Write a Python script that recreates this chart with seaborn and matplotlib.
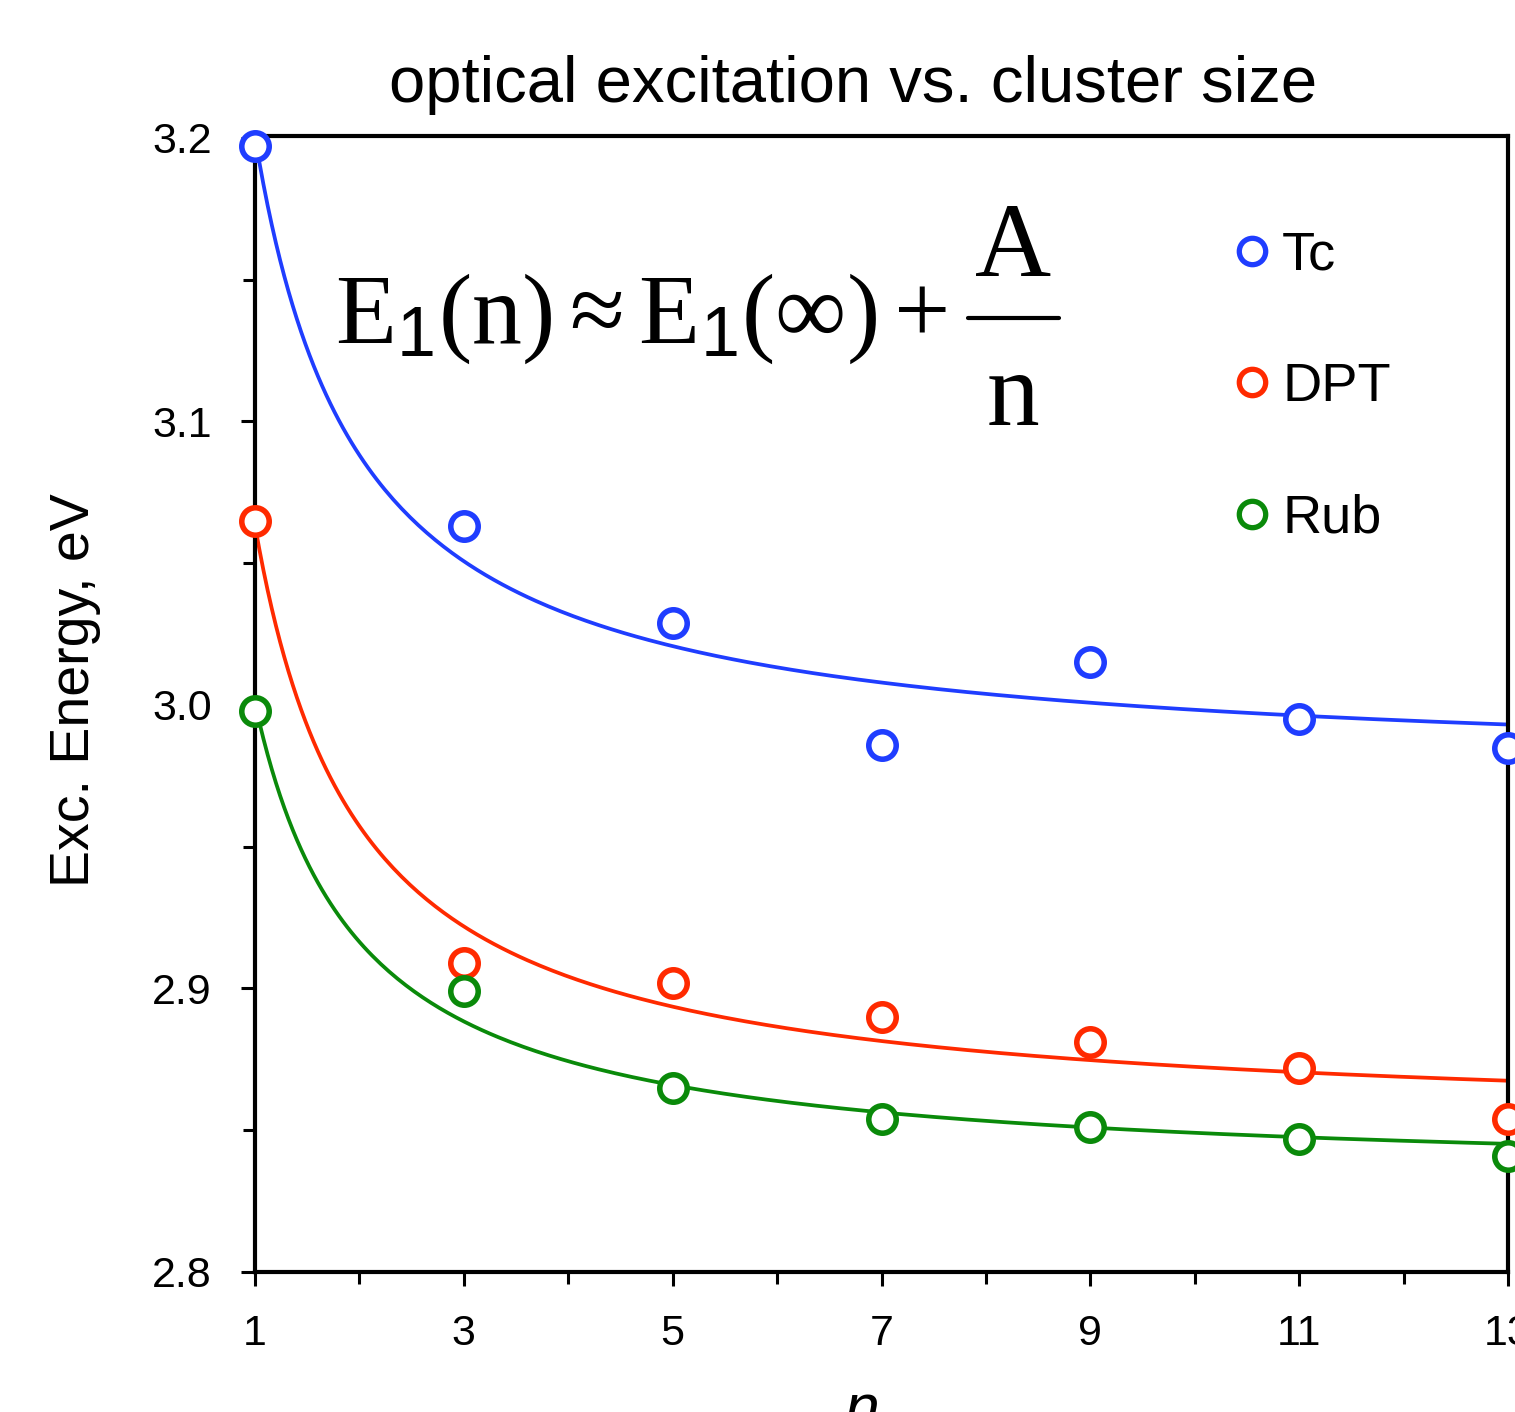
import numpy as np
import pandas as pd
import matplotlib
matplotlib.use("Agg")
import matplotlib.pyplot as plt
import seaborn as sns
from matplotlib.lines import Line2D
from matplotlib.ticker import MultipleLocator

# data
cluster_n = [1, 3, 5, 7, 9, 11, 13]
series_names = ["Tc", "DPT", "Rub"]
energy_tc = [3.197, 3.063, 3.029, 2.986, 3.015, 2.995, 2.985]
energy_dpt = [3.065, 2.909, 2.902, 2.890, 2.881, 2.872, 2.854]
energy_rub = [2.998, 2.899, 2.865, 2.854, 2.851, 2.847, 2.841]
series_colors = ["#1f3dff", "#ff2a00", "#0a8a0a"]
x_ticks = [1, 3, 5, 7, 9, 11, 13]
y_ticks = [2.8, 2.9, 3.0, 3.1, 3.2]

sns.set_style("ticks")
plt.rcParams["font.family"] = ["Liberation Sans Narrow", "Liberation Sans", "DejaVu Sans"]
for key in ["text.color", "axes.labelcolor", "axes.edgecolor", "xtick.color", "ytick.color"]:
    plt.rcParams[key] = "black"
plt.rcParams["mathtext.fontset"] = "custom"
plt.rcParams["mathtext.rm"] = "Liberation Serif"
plt.rcParams["mathtext.it"] = "Liberation Serif:italic"
plt.rcParams["mathtext.sf"] = "Liberation Sans"

df = pd.DataFrame({
    "n": cluster_n * 3,
    "series": np.repeat(series_names, len(cluster_n)),
    "energy": energy_tc + energy_dpt + energy_rub,
})

# least squares fit E(n) = E_inf + A/n for every series
n_fine = np.linspace(1, 13, 300)
curves = []
for name in series_names:
    sub = df[df["series"] == name]
    A, e_inf = np.polyfit(1.0 / sub["n"], sub["energy"], 1)
    curves.append(pd.DataFrame({"n": n_fine, "series": name, "energy": e_inf + A / n_fine}))
curve_df = pd.concat(curves, ignore_index=True)

fig = plt.figure(figsize=(15.15, 14.12), dpi=100)
ax = fig.add_axes([255 / 1515, 1 - 1272 / 1412, 1253 / 1515, 1136 / 1412])

palette = dict(zip(series_names, series_colors))
sns.lineplot(data=curve_df, x="n", y="energy", hue="series", palette=palette,
             linewidth=2.7, legend=False, ax=ax, zorder=2)
for name, color in zip(series_names, series_colors):
    sns.scatterplot(data=df[df["series"] == name], x="n", y="energy", marker="o",
                    s=390, facecolor="white", edgecolor=color, linewidth=4.0,
                    legend=False, ax=ax, zorder=5, clip_on=False)

ax.set_xlim(1, 13)
ax.set_ylim(2.8, 3.2007)
ax.set_xticks(x_ticks)
ax.set_yticks(y_ticks)
ax.set_yticklabels([f"{v:.1f}" for v in y_ticks])
ax.xaxis.set_minor_locator(MultipleLocator(1))
ax.yaxis.set_minor_locator(MultipleLocator(0.05))
ax.tick_params(which="major", direction="out", length=10, width=2.2, labelsize=31, pad=20)
ax.tick_params(which="minor", direction="out", length=8.5, width=2.2)
ax.tick_params(axis="y", which="major", pad=21)
for sp in ax.spines.values():
    sp.set_linewidth(3)
ax.set_xlabel("")
ax.set_ylabel("")

fig.text(853 / 1515, 1 - 102 / 1412, "optical excitation vs. cluster size",
         fontsize=47, ha="center", va="baseline")
fig.text(75 / 1515, 1 - 690 / 1412, "Exc. Energy, eV", fontsize=40,
         rotation=90, ha="center", va="center")
fig.text(862 / 1515, -0.011, "n", fontsize=45, style="italic", ha="center", va="baseline")

# formula: E1(n) ~ E1(inf) + A/n
fig.text(335 / 1515, 1 - 343 / 1412,
         r"$\mathrm{E}_{\mathsf{1}}(\mathrm{n})\approx\mathrm{E}_{\mathsf{1}}(\infty)+$",
         fontsize=72, ha="left", va="baseline")
fig.text(1013 / 1515, 1 - 276 / 1412, "A", family="Liberation Serif",
         fontsize=76, ha="center", va="baseline")
fig.text(1013 / 1515, 1 - 425 / 1412, "n", family="Liberation Serif",
         fontsize=76, ha="center", va="baseline")
fig.add_artist(Line2D([968 / 1515, 1059 / 1515], [1 - 318 / 1412] * 2,
                      transform=fig.transFigure, color="black", linewidth=3))

handles = [Line2D([], [], linestyle="none", marker="o", markersize=19,
                  markerfacecolor="white", markeredgecolor=c, markeredgewidth=3.8)
           for c in series_colors]
ax.legend(handles, series_names, loc="upper left", bbox_to_anchor=(1236 / 1515, 1 - 231 / 1412),
          bbox_transform=fig.transFigure, frameon=False, fontsize=39,
          handlelength=0.6, handletextpad=0.25, labelspacing=1.5, borderpad=0, borderaxespad=0)

fig.savefig("out.png", dpi=100)
